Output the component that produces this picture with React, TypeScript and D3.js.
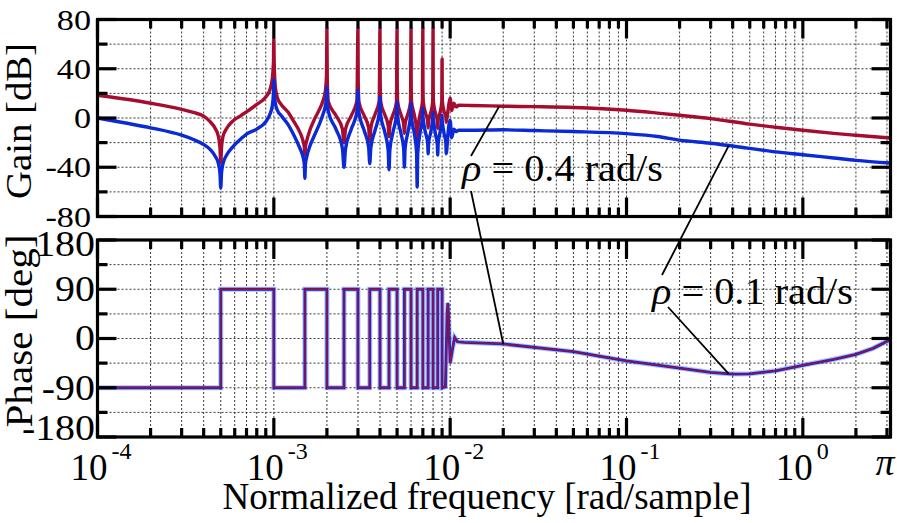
import React from "react";
import * as d3 from "d3";

const W = 897;
const H = 523;

// gain [dB]
const gainFreq = [
  1e-4, 1.5e-4, 2e-4, 3e-4, 3.5e-4, 4e-4, 4.35e-4, 4.65e-4, 4.85e-4, 4.95e-4, 5e-4, 5.05e-4, 5.15e-4, 5.4e-4, 5.8e-4, 6.5e-4, 7e-4, 8e-4, 9e-4, 9.5e-4, 9.8e-4, 9.95e-4,
  1e-3, 1.005e-3, 1.02e-3, 1.05e-3, 1.1e-3, 1.2e-3, 1.3e-3, 1.4e-3, 1.46e-3, 1.49e-3, 1.5e-3, 1.51e-3, 1.54e-3, 1.6e-3, 1.7e-3, 1.8e-3, 1.9e-3, 1.96e-3, 1.99e-3,
  2e-3, 2.01e-3, 2.04e-3, 2.25e-3, 2.45e-3, 2.5e-3, 2.55e-3, 2.75e-3, 2.96e-3,
  3e-3, 3.01e-3, 3.04e-3, 3.25e-3, 3.45e-3, 3.5e-3, 3.55e-3, 3.75e-3, 3.96e-3,
  4e-3, 4.01e-3, 4.04e-3, 4.25e-3, 4.45e-3, 4.5e-3, 4.55e-3, 4.75e-3, 4.96e-3,
  5e-3, 5.01e-3, 5.04e-3, 5.25e-3, 5.45e-3, 5.5e-3, 5.55e-3, 5.75e-3, 5.96e-3,
  6e-3, 6.01e-3, 6.04e-3, 6.25e-3, 6.45e-3, 6.5e-3, 6.55e-3, 6.75e-3, 6.96e-3,
  7e-3, 7.01e-3, 7.04e-3, 7.25e-3, 7.45e-3, 7.5e-3, 7.55e-3, 7.75e-3, 7.96e-3,
  8e-3, 8.01e-3, 8.04e-3, 8.25e-3, 8.45e-3, 8.5e-3, 8.55e-3, 8.75e-3, 8.96e-3,
  9e-3, 9.01e-3, 9.04e-3, 9.25e-3, 9.45e-3, 9.5e-3,
  9.7e-3, 9.85e-3, 1e-2, 1.02e-2, 1.05e-2, 1.08e-2, 1.12e-2, 1.3e-2, 2e-2, 3e-2, 5e-2,
  0.1, 0.15, 0.2, 0.3, 0.5, 0.7, 1, 1.5, 2, Math.PI,
];

// rho = 0.4 rad/s
const gainRed = [
  18.5, 15, 12, 7, 4.5, 1.5, -3, -8.5, -15, -24, -36, -24, -15, -8.5, -3, 2, 5, 11, 17, 23, 32, 45,
  65, 45, 25, 16, 11, 5, -3, -11, -18, -24, -30, -24, -18, -10, -1, 6, 14, 22, 35,
  73, 30, 13, 2, -9, -20, -9, 2, 14,
  73, 30, 13, 2, -8, -19, -8, 3, 14,
  73, 30, 13, 3, -6, -15, -6, 3, 13,
  73, 30, 13, 3, -5, -12.5, -5, 3, 13,
  73, 30, 13, 3, -10, -34, -10, 3, 13,
  73, 30, 13, 4, -2, -8, -2, 4, 13,
  73, 30, 13, 4, -2, -8.5, -2, 4, 13,
  48, 25, 13, 5, 1, -3.5,
  5, 12, 16, 6, 12, 9, 10.3, 10.2, 9.6, 9.2, 8.5,
  6.3, 4, 2.2, -0.5, -5, -7.5, -10, -12.5, -14, -16.3,
];

// rho = 0.1 rad/s
const gainBlue = [
  0, -4.5, -8, -14, -17.5, -21.5, -25.5, -31, -37, -45, -57, -45, -37, -30, -24, -17, -13, -9, -3, 3, 10, 20,
  31, 20, 12, 6, 2, -5, -14, -24, -31, -38, -49, -38, -31, -23, -14, -6, 3, 10, 17,
  25, 12, 5, -9, -25, -40, -25, -9, 5,
  22.5, 10, 4, -10, -24, -37, -24, -10, 4,
  17, 7, 2, -11, -26, -42, -26, -11, 3,
  13, 5, 1, -12, -25, -40, -25, -12, 2,
  12, 4, 0, -12, -28, -56, -28, -12, 1,
  8, 2, -1, -12, -20, -29, -20, -12, 0,
  4.5, 0, -2, -13, -21, -30, -21, -12, -1,
  2, -2, -4, -13, -20, -29,
  -14, -5, -2, -16, -9, -11, -10, -10, -9.6, -10.2, -11,
  -12.7, -15, -18, -20.5, -24.7, -27.5, -29.8, -32.5, -34.4, -36.6,
];

// phase [deg], both curves lie on top of each other
const phaseFreq = [
  1e-4, 5e-4, 5e-4, 1e-3, 1e-3, 1.5e-3, 1.5e-3, 2e-3, 2e-3, 2.5e-3, 2.5e-3, 3e-3, 3e-3,
  3.5e-3, 3.5e-3, 4e-3, 4e-3, 4.5e-3, 4.5e-3, 5e-3, 5e-3, 5.5e-3, 5.5e-3, 6e-3, 6e-3,
  6.5e-3, 6.5e-3, 7e-3, 7e-3, 7.5e-3, 7.5e-3, 8e-3, 8e-3, 8.5e-3, 8.5e-3, 9e-3, 9e-3,
  9.4e-3, 9.6e-3, 9.7e-3, 9.8e-3, 1e-2, 1.03e-2, 1.06e-2, 1.1e-2, 1.2e-2, 2e-2, 5e-2,
  0.1, 0.2, 0.3, 0.4, 0.5, 0.7, 1, 1.5, 2, 2.5, Math.PI,
];
const phaseRed = [
  -90, -90, 90, 90, -90, -90, 90, 90, -90, -90, 90, 90, -90,
  -90, 90, 90, -90, -90, 90, 90, -90, -90, 90, 90, -90,
  -90, 90, 90, -90, -90, 90, 90, -90, -90, 90, 90, -90,
  -88, 40, 65, 40, -45, -20, 2, -6, -7, -10, -24,
  -41, -54, -62, -65, -64.5, -59, -49, -38, -29, -18, -2,
];
const phaseBlue = phaseRed;

const xTickExps = [-4, -3, -2, -1, 0];
const gainTicks = [-80, -40, 0, 40, 80];
const phaseTicks = [-180, -90, 0, 90, 180];

const RED = "#a50d30";
const BLUE = "#0b2ad6";
const FONT = "'Liberation Serif', 'Times New Roman', serif";

const x = d3.scaleLog().domain([1e-4, Math.PI]).range([97.5, 890.5]);
const yG = d3.scaleLinear().domain([-80, 80]).range([216.5, 19.5]);
const yP = d3.scaleLinear().domain([-180, 180]).range([437, 240]);

const xGrid: number[] = [];
for (let e = -4; e <= 0; e++) {
  for (let m = 1; m <= 9; m++) {
    const v = m * Math.pow(10, e);
    if (v <= Math.PI) xGrid.push(v);
  }
}

// value of a curve at frequency f (linear in log f), used for the leader lines
function valueAt(fs: number[], vs: number[], f: number) {
  for (let i = 1; i < fs.length; i++) {
    if (fs[i] >= f && fs[i - 1] <= f) {
      const t = (Math.log(f) - Math.log(fs[i - 1])) / (Math.log(fs[i]) - Math.log(fs[i - 1]) || 1);
      return vs[i - 1] + t * (vs[i] - vs[i - 1]);
    }
  }
  return vs[vs.length - 1];
}

function Panel({ y, majors, minors, id, children }: any) {
  const [x0, x1] = x.range();
  const [yb, yt] = y.range();
  return (
    <g>
      <clipPath id={id}>
        <rect x={x0} y={yt} width={x1 - x0} height={yb - yt} />
      </clipPath>
      {xGrid.map((v) => (
        <line key={"gx" + v} x1={x(v)} x2={x(v)} y1={yt} y2={yb} stroke="#222" strokeWidth={0.9} strokeDasharray="2 2" />
      ))}
      {[...majors, ...minors].map((v: number) => (
        <line key={"gy" + v} x1={x0} x2={x1} y1={y(v)} y2={y(v)} stroke="#222" strokeWidth={0.9} strokeDasharray="2 2" />
      ))}
      <g clipPath={`url(#${id})`}>{children}</g>
      {xGrid.map((v) => {
        const len = Math.abs(Math.log10(v) - Math.round(Math.log10(v))) < 1e-9 ? 19 : 9;
        return (
          <g key={"tx" + v} stroke="#000" strokeWidth={3.2}>
            <line x1={x(v)} x2={x(v)} y1={yt} y2={yt + len} />
            <line x1={x(v)} x2={x(v)} y1={yb} y2={yb - len} />
          </g>
        );
      })}
      {majors.map((v: number) => (
        <g key={"ty" + v} stroke="#000" strokeWidth={3.2}>
          <line x1={x0} x2={x0 + 19} y1={y(v)} y2={y(v)} />
          <line x1={x1} x2={x1 - 19} y1={y(v)} y2={y(v)} />
        </g>
      ))}
      {minors.map((v: number) => (
        <g key={"tm" + v} stroke="#000" strokeWidth={3.2}>
          <line x1={x0} x2={x0 + 10} y1={y(v)} y2={y(v)} />
          <line x1={x1} x2={x1 - 10} y1={y(v)} y2={y(v)} />
        </g>
      ))}
      <rect x={x0} y={yt} width={x1 - x0} height={yb - yt} fill="none" stroke="#000" strokeWidth={3.2} />
    </g>
  );
}

export default function App() {
  const gainPath = (vals: number[]) =>
    d3
      .line<number>()
      .x((_, i) => x(gainFreq[i]))
      .y((v) => yG(v))
      .curve(d3.curveMonotoneX)(vals) as string;
  const phasePath = (vals: number[]) =>
    d3
      .line<number>()
      .x((_, i) => x(phaseFreq[i]))
      .y((v) => yP(v))(vals) as string;

  const a1 = 0.019;
  const a2 = 0.02;
  const a3 = 0.38;

  // phase labels are kept inside the panel's height, as in the reference
  const phaseLabelY = (v: number) => Math.min(Math.max(yP(v), 244), 428);

  return (
    <svg width={W} height={H} style={{ position: "absolute", left: 0, top: 0, background: "#fff" }} fontFamily={FONT}>
      <Panel y={yG} majors={gainTicks} minors={[-60, -20, 20, 60]} id="clipG">
        <path d={gainPath(gainRed)} fill="none" stroke={RED} strokeWidth={3.4} strokeLinejoin="round" />
        <path d={gainPath(gainBlue)} fill="none" stroke={BLUE} strokeWidth={3.4} strokeLinejoin="round" />
      </Panel>
      <Panel y={yP} majors={phaseTicks} minors={[-135, -45, 45, 135]} id="clipP">
        <path d={phasePath(phaseBlue)} fill="none" stroke={BLUE} strokeOpacity={0.3} strokeWidth={5} />
        <path d={phasePath(phaseBlue)} fill="none" stroke={BLUE} strokeWidth={2.8} />
        <path d={phasePath(phaseRed)} fill="none" stroke={RED} strokeWidth={1.3} />
      </Panel>

      {/* y tick labels */}
      {gainTicks.map((v) => (
        <text key={"lg" + v} transform={`translate(91,${yG(v)}) scale(1.14,1)`} textAnchor="end" dy="0.34em" fontSize={30}>
          {v}
        </text>
      ))}
      {phaseTicks.map((v) => (
        <text key={"lp" + v} transform={`translate(95,${phaseLabelY(v)}) scale(1.14,1)`} textAnchor="end" dy="0.34em" fontSize={35}>
          {v}
        </text>
      ))}

      {/* x tick labels */}
      {xTickExps.map((e) => (
        <g key={"lx" + e}>
          <text x={x(Math.pow(10, e)) + 10} y={480} textAnchor="end" fontSize={37}>
            10
          </text>
          <text x={x(Math.pow(10, e)) + 14} y={459} textAnchor="start" fontSize={24}>
            {e}
          </text>
        </g>
      ))}
      <text x={885} y={475} textAnchor="middle" fontSize={38} fontStyle="italic">
        π
      </text>

      {/* axis titles */}
      <text transform="translate(31,121) rotate(-90)" textAnchor="middle" fontSize={36} textLength={156} lengthAdjust="spacingAndGlyphs">
        Gain [dB]
      </text>
      <text transform="translate(32,331) rotate(-90)" textAnchor="middle" fontSize={37} textLength={193} lengthAdjust="spacingAndGlyphs">
        Phase [deg]
      </text>
      <text x={487} y={509} textAnchor="middle" fontSize={37} textLength={529} lengthAdjust="spacingAndGlyphs">
        Normalized frequency [rad/sample]
      </text>

      {/* annotations */}
      <g stroke="#000" strokeWidth={1.8}>
        <line x1={471} y1={156} x2={x(a1)} y2={yG(valueAt(gainFreq, gainRed, a1))} />
        <line x1={471} y1={191} x2={x(a2)} y2={yP(valueAt(phaseFreq, phaseRed, a2))} />
        <line x1={662} y1={275} x2={x(a3)} y2={yG(valueAt(gainFreq, gainBlue, a3))} />
        <line x1={668} y1={307} x2={x(a3)} y2={yP(valueAt(phaseFreq, phaseBlue, a3))} />
      </g>
      <text x={462} y={181} fontSize={37} textLength={201} lengthAdjust="spacingAndGlyphs">
        <tspan fontStyle="italic">ρ</tspan> = 0.4 rad/s
      </text>
      <text x={652} y={304} fontSize={37} textLength={201} lengthAdjust="spacingAndGlyphs">
        <tspan fontStyle="italic">ρ</tspan> = 0.1 rad/s
      </text>
    </svg>
  );
}
